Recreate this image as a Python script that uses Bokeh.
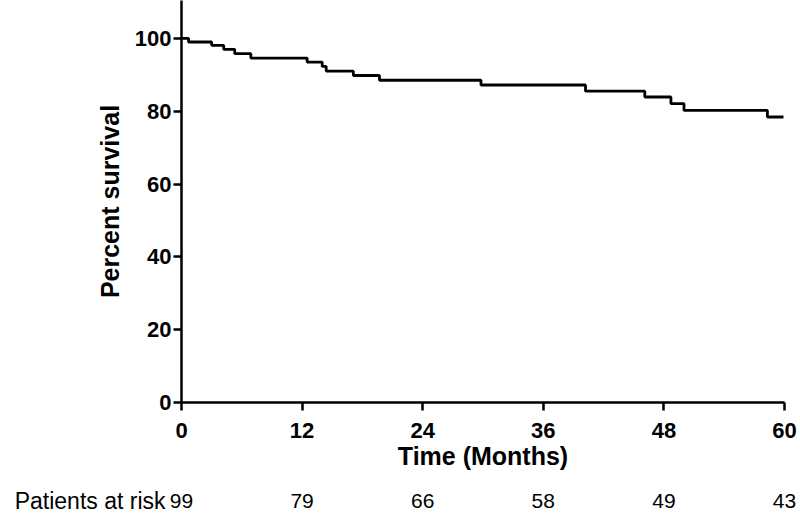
from bokeh.plotting import figure
from bokeh.models import Range1d, LinearAxis, FixedTicker
from bokeh.layouts import column
from bokeh.core.properties import value
from bokeh.embed import file_html
from bokeh.resources import INLINE

# Kaplan-Meier curve
months = [0, 0.7, 3.0, 4.2, 5.3, 6.9, 12.5, 14.0, 14.4, 17.1, 19.7, 29.8, 40.2, 46.1, 48.7, 50.0, 58.3, 59.9]
survival = [100, 99.0, 98.1, 97.0, 95.8, 94.6, 93.5, 92.3, 91.0, 89.8, 88.5, 87.2, 85.5, 83.9, 82.1, 80.2, 78.4, 78.4]

x_ticks = [0, 12, 24, 36, 48, 60]
y_ticks = [0, 20, 40, 60, 80, 100]
at_risk = ["99", "79", "66", "58", "49", "43"]
risk_title = "Patients at risk"
x_title = "Time (Months)"
y_title = "Percent survival"

FONT = "Liberation Sans"
W = 800
LEFT, RIGHT = 181, 16
X0, X1 = 0, 60
px_per_unit = (W - LEFT - RIGHT) / (X1 - X0)

p = figure(width=W, height=474, output_backend="svg", toolbar_location=None,
           x_range=Range1d(X0, X1), y_range=Range1d(0, 110.4),
           min_border_left=LEFT, min_border_right=RIGHT, min_border_top=0, min_border_bottom=72,
           x_axis_location=None, y_axis_location=None)
p.grid.visible = False
p.outline_line_color = None
p.frame_align = False

p.step(months, survival, mode="after", line_color="black", line_width=2.8)

def style(ax):
    ax.axis_line_color = "black"
    ax.axis_line_width = 2.5
    ax.major_tick_line_color = "black"
    ax.major_tick_line_width = 2.5
    ax.major_tick_in = 0
    ax.major_tick_out = 8
    ax.minor_tick_line_color = None
    ax.major_label_text_font = FONT
    ax.major_label_text_font_size = "22px"
    ax.major_label_text_font_style = "bold"
    ax.major_label_text_color = "black"
    ax.axis_label_text_font = FONT
    ax.axis_label_text_font_size = "25px"
    ax.axis_label_text_font_style = "bold"
    ax.axis_label_text_color = "black"

xa = LinearAxis(ticker=FixedTicker(ticks=x_ticks), axis_label=x_title)
style(xa)
xa.major_label_standoff = 12
xa.axis_label_standoff = 1
p.add_layout(xa, "below")

ya = LinearAxis(ticker=FixedTicker(ticks=y_ticks), axis_label=y_title)
style(ya)
ya.major_label_standoff = 2
ya.axis_label_standoff = 8
p.add_layout(ya, "left")

# patients-at-risk row, sharing the same time scale (frame spans the full width)
q = figure(width=W, height=40, output_backend="svg", toolbar_location=None,
           x_range=Range1d(X0 - LEFT / px_per_unit, X1 + RIGHT / px_per_unit),
           y_range=Range1d(0, 40),
           min_border_left=0, min_border_right=0, min_border_top=0, min_border_bottom=0,
           x_axis_location=None, y_axis_location=None)
q.grid.visible = False
q.outline_line_color = None
q.frame_align = False
row_y = [14] * len(x_ticks)
q.text(x=x_ticks, y=row_y, text=at_risk, text_align="center", text_baseline="middle",
       text_font=value(FONT), text_font_size="21px", text_color="black")
q.text(x=[X0], y=[14], text=[risk_title], text_align="right", text_baseline="middle",
       x_offset=-16, text_font=value(FONT), text_font_size="23px", text_color="black")

layout = column(p, q, spacing=0)
open("out.html", "w").write(file_html(layout, INLINE))
